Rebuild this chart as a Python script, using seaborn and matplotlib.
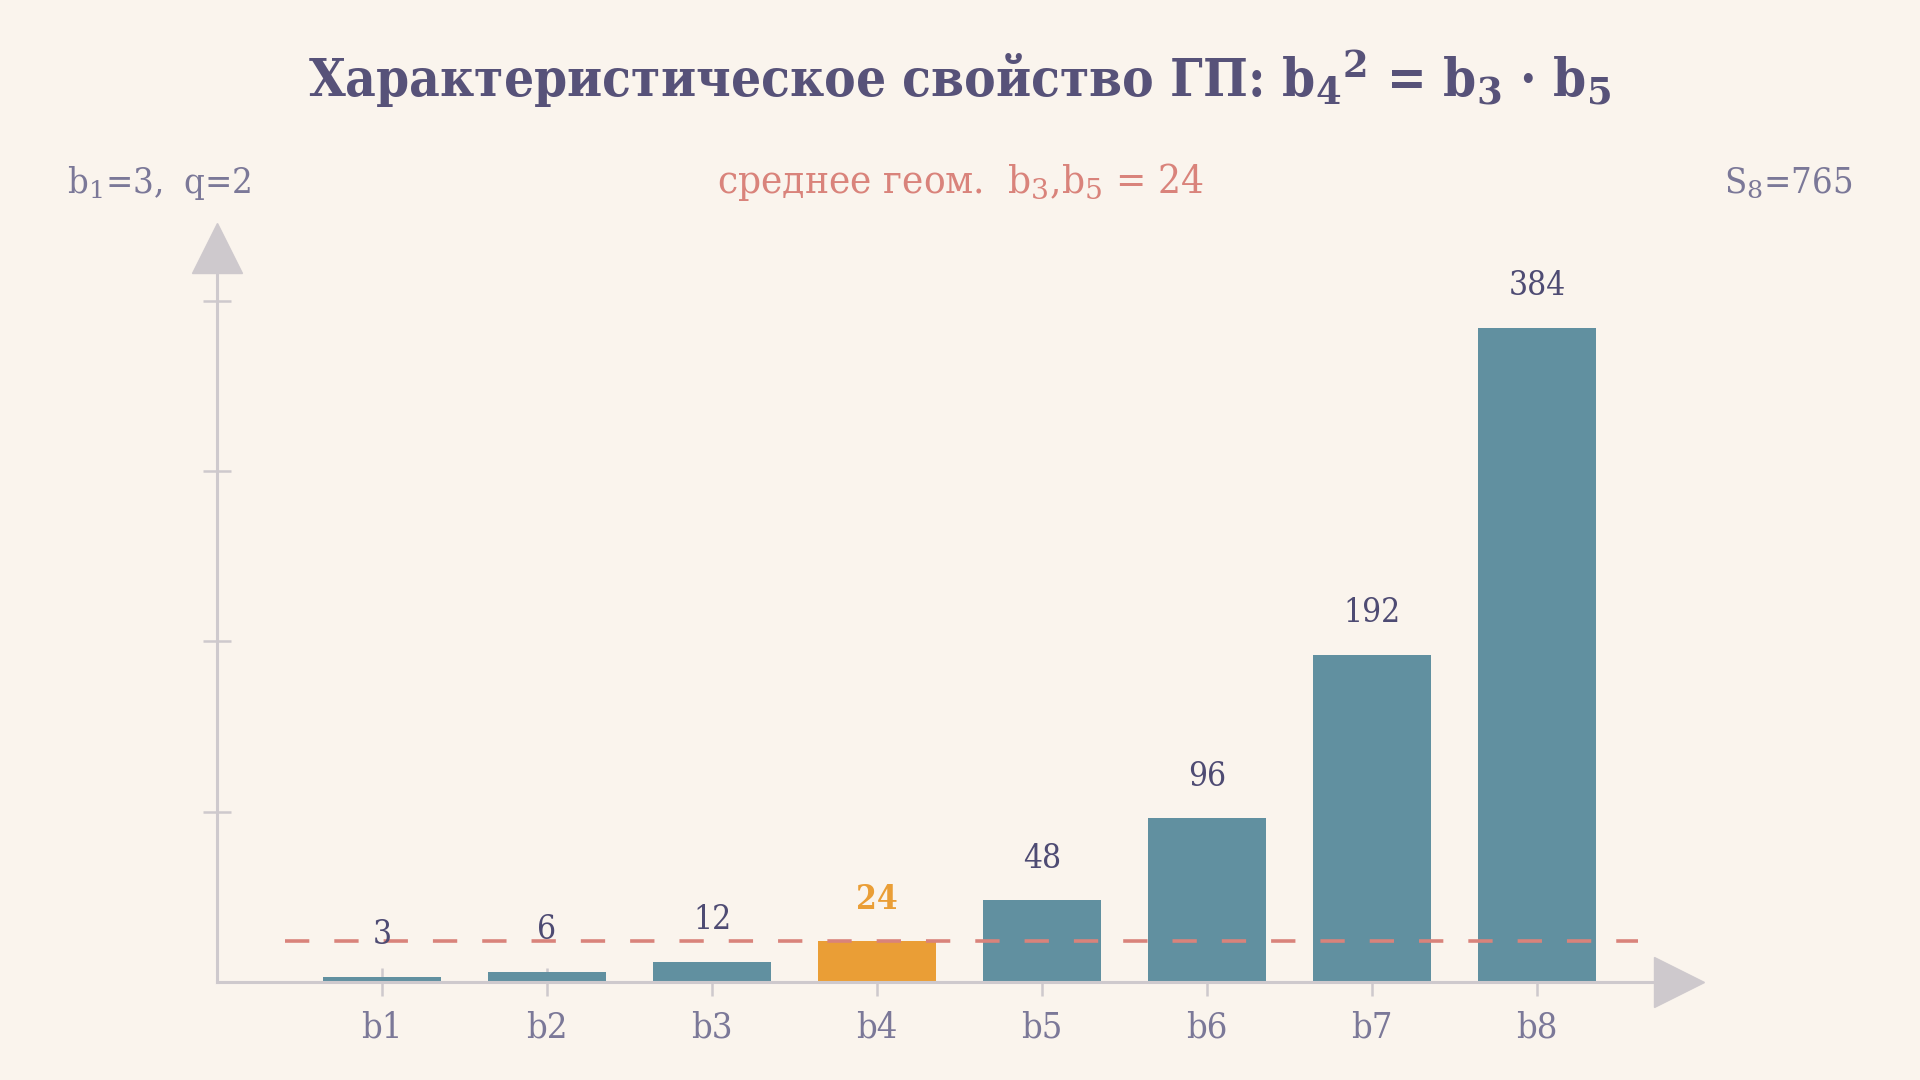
import matplotlib
matplotlib.use("Agg")
import matplotlib.pyplot as plt
import seaborn as sns
import pandas as pd

# ---- data ----
categories = ["b1", "b2", "b3", "b4", "b5", "b6", "b7", "b8"]
values = [3, 6, 12, 24, 48, 96, 192, 384]
highlight = "b4"
geo_mean = 24
y_ticks = [100, 200, 300, 400]
title = r"Характеристическое свойство ГП: b$_\mathbf{4}$$^\mathbf{2}$ = b$_\mathbf{3}$ · b$_\mathbf{5}$"
subtitle = r"среднее геом.  b$_3$,b$_5$ = 24"
left_note = r"b$_1$=3,  q=2"
right_note = r"S$_8$=765"

# ---- style ----
BG = "#FAF4ED"
TITLE_C = "#575279"
BAR_C = "#6190A0"
HI_C = "#EA9E36"
SALMON = "#D9837B"
LBL_C = "#7B7898"
VAL_C = "#4E4B73"
AX_C = "#CEC9CD"

sns.set_theme(style="white")
plt.rcParams["font.family"] = ["DejaVu Serif"]
plt.rcParams["mathtext.fontset"] = "dejavuserif"
plt.rcParams["lines.scale_dashes"] = False

df = pd.DataFrame({"cat": categories, "val": values})
palette = {c: (HI_C if c == highlight else BAR_C) for c in categories}

fig = plt.figure(figsize=(19.2, 10.8), dpi=100, facecolor=BG)
ax = fig.add_axes([217 / 1920, 98 / 1080, 1485 / 1920, 758 / 1080])
ax.set_facecolor(BG)

sns.barplot(data=df, x="cat", y="val", hue="cat", palette=palette, width=0.72,
            saturation=1, legend=False, edgecolor="none", ax=ax, zorder=2)

ax.set_xlim(-1, 8)
ax.set_ylim(0, 445)
ax.set_xlabel("")
ax.set_ylabel("")

# dashed geometric-mean line
ax.plot([-0.59, 7.61], [geo_mean, geo_mean], color=SALMON, lw=2.6,
        dashes=(17.5, 18), zorder=3)

# value labels
for i, (c, v) in enumerate(zip(categories, values)):
    hi = c == highlight
    ax.annotate(str(v), (i, v), xytext=(0, 30), textcoords="offset points",
                ha="center", va="center", fontsize=24,
                color=HI_C if hi else VAL_C,
                fontweight="bold" if hi else "normal",
                fontstretch="condensed", zorder=4)

# axes
for s in ["top", "right"]:
    ax.spines[s].set_visible(False)
for s in ["left", "bottom"]:
    ax.spines[s].set_color(AX_C)
    ax.spines[s].set_linewidth(2.2)
ax.spines["left"].set_bounds(0, 415)
ax.spines["bottom"].set_bounds(-1, 7.72)

ax.set_yticks(y_ticks)
ax.set_yticklabels([])
ax.tick_params(axis="y", left=True, direction="inout", length=19.5, width=1.8, color=AX_C)
ax.tick_params(axis="x", bottom=True, direction="inout", length=19.5, width=1.8,
               color=AX_C, labelsize=26, labelcolor=LBL_C, pad=11)
for t in ax.get_xticklabels():
    t.set_fontstretch("condensed")

# arrow heads
ax.plot([-1], [430.7], marker="^", markersize=36.5, color=AX_C, clip_on=False, zorder=1)
ax.plot([7.86], [0], marker=">", markersize=36, color=AX_C, clip_on=False, zorder=1)

# texts
fig.text(0.5, 1 - 97 / 1080, title, ha="center", va="baseline", fontsize=38,
         fontweight="bold", fontstretch="condensed", color=TITLE_C)
fig.text(0.5, 1 - 193 / 1080, subtitle, ha="center", va="baseline", fontsize=29,
         color=SALMON, fontstretch="condensed")
fig.text(67 / 1920, 1 - 193 / 1080, left_note, ha="left", va="baseline", fontsize=26,
         color=LBL_C, fontstretch="condensed")
fig.text(1852 / 1920, 1 - 193 / 1080, right_note, ha="right", va="baseline", fontsize=26,
         color=LBL_C, fontstretch="condensed")

fig.savefig("out.png", dpi=100, facecolor=BG)
